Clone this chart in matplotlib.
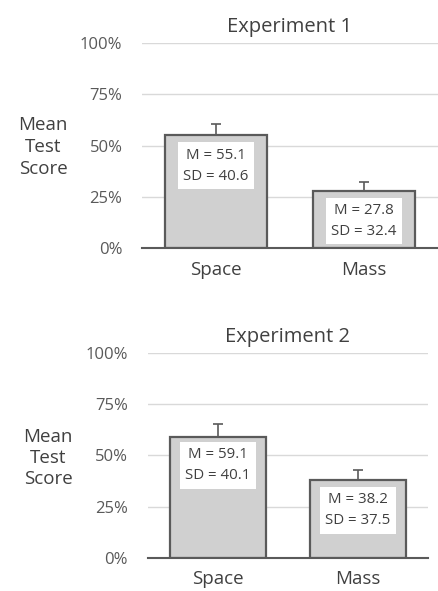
import matplotlib
matplotlib.use("Agg")
import matplotlib.pyplot as plt

categories = ["Space", "Mass"]
titles = ["Experiment 1", "Experiment 2"]
means_exp1 = [55.1, 27.8]
sds_exp1 = [40.6, 32.4]
err_exp1 = [5.4, 4.4]
means_exp2 = [59.1, 38.2]
sds_exp2 = [40.1, 37.5]
err_exp2 = [6.3, 4.7]
yticks = [0, 25, 50, 75, 100]
ytick_labels = ["0%", "25%", "50%", "75%", "100%"]
label_y_exp1 = [40.3, 13.2]
label_y_exp2 = [45.1, 23.2]

plt.rcParams['font.family'] = ['Open Sans', 'DejaVu Sans']

fig = plt.figure(figsize=(4.38, 5.91), dpi=100)
fig.patch.set_facecolor("white")

axes_pos = [[0.324, 0.580, 0.676, 0.347], [0.338, 0.056, 0.639, 0.347]]
data = [(means_exp1, sds_exp1, err_exp1, label_y_exp1),
        (means_exp2, sds_exp2, err_exp2, label_y_exp2)]
ylabel_xy = [(43 / 438, 1 - 147 / 591), (48 / 438, 1 - 458 / 591)]
tick_pads = [14, 14.5]

edge = "#5a5a5a"
for i, (pos, (m, sd, er, ly)) in enumerate(zip(axes_pos, data)):
    ax = fig.add_axes(pos)
    x = list(range(len(categories)))
    ax.bar(x, m, width=0.69, color="#d0d0d0", edgecolor=edge, linewidth=1.6, zorder=3)
    ax.errorbar(x, m, yerr=[[0] * len(er), er], fmt="none", ecolor=edge,
                elinewidth=1.2, capsize=3.5, capthick=1.2, zorder=2)
    for xi, mi, si, yi in zip(x, m, sd, ly):
        ax.text(xi, yi, f"M = {mi:.1f}\nSD = {si:.1f}", ha="center", va="center",
                fontsize=10.8, color="#404040", linespacing=1.55, zorder=4,
                bbox=dict(boxstyle="square,pad=0.35", facecolor="white", edgecolor="none"))
    ax.set_xlim(-0.5, 1.5)
    ax.set_ylim(0, 100)
    ax.set_yticks(yticks)
    ax.set_yticklabels(ytick_labels)
    ax.set_xticks(x)
    ax.set_xticklabels(categories)
    ax.tick_params(axis="y", length=0, labelsize=12, labelcolor="#595959", pad=tick_pads[i])
    ax.tick_params(axis="x", length=0, labelsize=13.5, labelcolor="#404040", pad=9)
    ax.grid(axis="y", color="#d9d9d9", linewidth=1, zorder=0)
    ax.set_axisbelow(True)
    for s in ["top", "right", "left"]:
        ax.spines[s].set_visible(False)
    ax.spines["bottom"].set_color(edge)
    ax.spines["bottom"].set_linewidth(1.5)
    ax.spines["bottom"].set_zorder(5)
    ax.set_title(titles[i], fontsize=14.5, color="#404040", pad=8)
    fig.text(ylabel_xy[i][0], ylabel_xy[i][1], "Mean\nTest\nScore", ha="center", va="center",
             fontsize=13.5, color="#404040", linespacing=1.25)

fig.savefig("out.png", dpi=100)
